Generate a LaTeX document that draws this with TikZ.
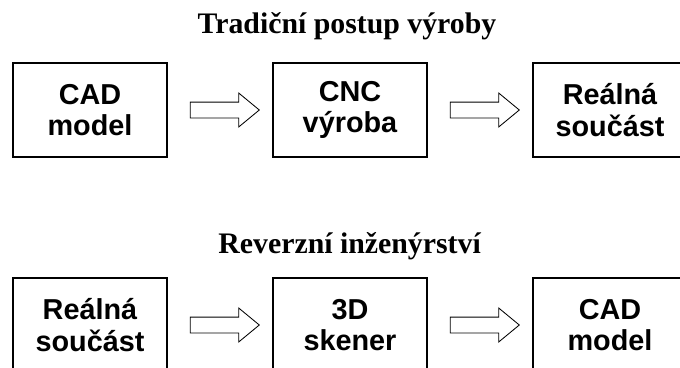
\documentclass[tikz,border=0pt]{standalone}
\usepackage{fontspec}
\setmainfont{Liberation Serif}
\setsansfont{Liberation Sans}
\usetikzlibrary{shapes,arrows,positioning,calc}

\begin{document}
\begin{tikzpicture}[
    stepbox/.style={draw, line width=1.1pt, outer sep=0pt, minimum width=3.85cm, minimum height=2.35cm, align=center, font=\sffamily\bfseries\fontsize{20.5}{22.5}\selectfont},
    blockarrow/.style={single arrow, draw, line width=0.6pt, fill=white, inner xsep=0pt, inner ysep=0.1875cm, text height=0pt, text depth=0pt, minimum height=1.725cm, single arrow head extend=0.225cm, single arrow tip angle=79},
    heading/.style={anchor=base, font=\bfseries\fontsize{21.2}{24}\selectfont}
]
    % Page frame (boxes at the right and bottom run off the page)
    \useasboundingbox (0,0) rectangle (17,-9.175);
    \clip (0,0) rectangle (17,-9.175);

    % Traditional production
    \node[heading] (title1) at (8.675,-0.825) {Tradiční postup výroby};
    \node[stepbox] (cad1) at (2.25,-2.75) {CAD\\model};
    \node[stepbox, right=2.65cm of cad1] (cnc) {CNC\\výroba};
    \node[stepbox, right=2.65cm of cnc] (part1) {Reálná\\součást};

    \node[blockarrow] (arr1) at ($(cad1.east)!0.5!(cnc.west)$) {};
    \node[blockarrow] (arr2) at ($(cnc.east)!0.5!(part1.west)$) {};

    % Reverse engineering
    \node[heading] (title2) at (8.74,-6.325) {Reverzní inženýrství};
    \node[stepbox, below=3.025cm of cad1] (part2) {Reálná\\součást};
    \node[stepbox, right=2.65cm of part2] (scan) {3D\\skener};
    \node[stepbox, right=2.65cm of scan] (cad2) {CAD\\model};

    \node[blockarrow] (arr3) at ($(part2.east)!0.5!(scan.west)$) {};
    \node[blockarrow] (arr4) at ($(scan.east)!0.5!(cad2.west)$) {};

\end{tikzpicture}
\end{document}
